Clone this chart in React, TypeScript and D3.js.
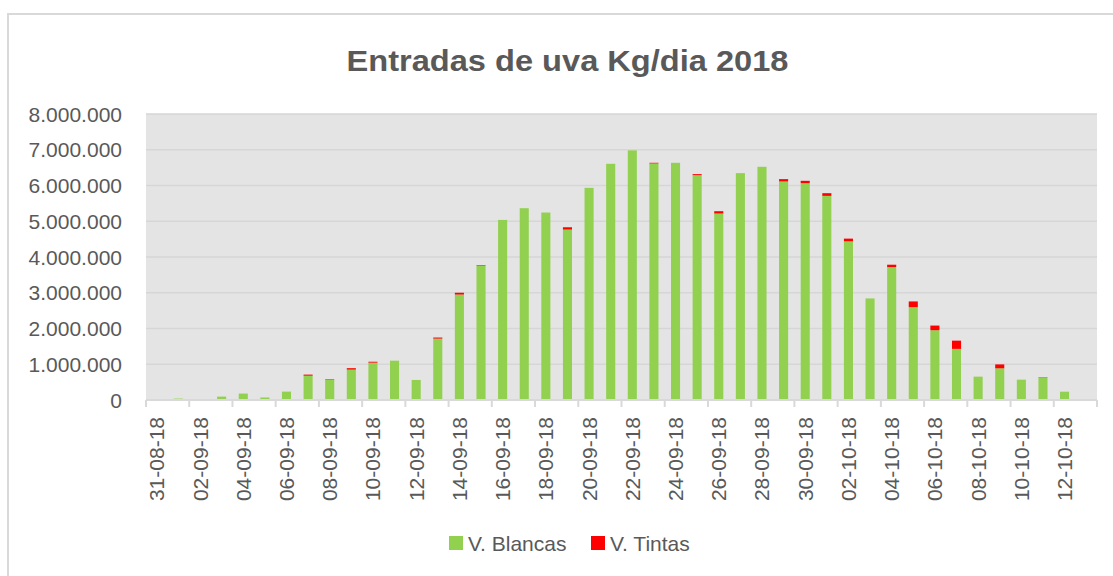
import React, { useRef, useEffect } from 'react';
import * as d3 from 'd3';

// Daily grape intake, 31-08-18 .. 13-10-18 (kg)
const dates = [
  '31-08-18',
  '01-09-18', '02-09-18', '03-09-18', '04-09-18', '05-09-18', '06-09-18', '07-09-18', '08-09-18',
  '09-09-18', '10-09-18', '11-09-18', '12-09-18', '13-09-18', '14-09-18', '15-09-18', '16-09-18',
  '17-09-18', '18-09-18', '19-09-18', '20-09-18', '21-09-18', '22-09-18', '23-09-18', '24-09-18',
  '25-09-18', '26-09-18', '27-09-18', '28-09-18', '29-09-18', '30-09-18',
  '01-10-18', '02-10-18', '03-10-18', '04-10-18', '05-10-18', '06-10-18', '07-10-18', '08-10-18',
  '09-10-18', '10-10-18', '11-10-18', '12-10-18', '13-10-18',
];

const blancas = [
  10000,
  40000, 10000, 95000, 180000, 70000, 235000, 680000, 560000,
  850000, 1045000, 1100000, 560000, 1717000, 2950000, 3760000, 5037000,
  5365000, 5244000, 4767000, 5934000, 6607000, 6983000, 6617000, 6635000,
  6290000, 5216000, 6346000, 6523000, 6113000, 6066000,
  5710000, 4439000, 2841000, 3719000, 2597000, 1952000, 1430000, 653000,
  886000, 569000, 625000, 233000, 0,
];

const tintas = [
  0,
  0, 0, 0, 0, 0, 0, 30000, 15000,
  40000, 25000, 0, 0, 30000, 50000, 15000, 0,
  0, 0, 65000, 0, 0, 0, 18000, 0,
  28000, 65000, 0, 0, 65000, 65000,
  75000, 75000, 0, 65000, 160000, 130000, 230000, 0,
  110000, 0, 10000, 0, 0,
];

const yTicks = [0, 1000000, 2000000, 3000000, 4000000, 5000000, 6000000, 7000000, 8000000];
const seriesNames = ['V. Blancas', 'V. Tintas'];
const seriesColors = ['#92d050', '#ff0000'];

const W = 1113;
const H = 576;
const FONT = '"Liberation Sans", Arial, sans-serif';
const TXT = '#595959';

const App = () => {
  const svgRef = useRef<SVGSVGElement>(null);

  useEffect(() => {
    if (!svgRef.current) return;
    const svg = d3.select(svgRef.current);
    svg.selectAll('*').remove();

    const m = { left: 146, right: 1097, top: 114, bottom: 400 };

    // outer chart frame
    svg.append('rect')
      .attr('x', 8).attr('y', 14).attr('width', W + 20).attr('height', H + 20)
      .attr('fill', '#fff').attr('stroke', '#d9d9d9').attr('stroke-width', 2);

    svg.append('text')
      .attr('x', (m.left + m.right) / 2 - 54).attr('y', 71)
      .attr('text-anchor', 'middle')
      .attr('font-family', FONT).attr('font-weight', 700).attr('font-size', 30)
      .attr('fill', TXT)
      .attr('textLength', 442).attr('lengthAdjust', 'spacingAndGlyphs')
      .text('Entradas de uva Kg/dia 2018');

    const x = d3.scaleBand<string>().domain(dates).range([m.left, m.right]).paddingInner(0.58).paddingOuter(0.29);
    const step = x.step();
    const y = d3.scaleLinear().domain([0, 8000000]).range([m.bottom, m.top]);

    // plot background + gridlines
    svg.append('rect')
      .attr('x', m.left).attr('y', m.top).attr('width', m.right - m.left).attr('height', m.bottom - m.top)
      .attr('fill', '#e4e4e4');
    svg.append('g').selectAll('line').data(yTicks.slice(1)).enter().append('line')
      .attr('x1', m.left).attr('x2', m.right)
      .attr('y1', d => y(d)).attr('y2', d => y(d))
      .attr('stroke', '#d6d6d6').attr('stroke-width', 1.5);

    // y tick labels
    const fmt = (v: number) => d3.format(',')(v).replace(/,/g, '.');
    svg.append('g').selectAll('text').data(yTicks).enter().append('text')
      .attr('x', 122).attr('y', d => y(d))
      .attr('text-anchor', 'end').attr('dominant-baseline', 'central')
      .attr('font-family', FONT).attr('font-size', 21).attr('fill', TXT)
      .text(d => fmt(d));

    // stacked bars
    const rows = dates.map((d, i) => ({ date: d, blancas: blancas[i], tintas: tintas[i] }));
    const stack = d3.stack<any>().keys(['blancas', 'tintas'])(rows);
    stack.forEach((layer, k) => {
      svg.append('g').selectAll('rect').data(layer).enter().append('rect')
        .attr('x', d => x(d.data.date) as number)
        .attr('width', x.bandwidth())
        .attr('y', d => y(d[1]))
        .attr('height', d => Math.max(0, y(d[0]) - y(d[1])))
        .attr('fill', seriesColors[k]);
    });

    // x axis line + ticks every 2 days
    svg.append('line')
      .attr('x1', m.left).attr('x2', m.right).attr('y1', m.bottom).attr('y2', m.bottom)
      .attr('stroke', '#d9d9d9').attr('stroke-width', 2);
    const tickIdx = d3.range(0, dates.length + 1, 2);
    svg.append('g').selectAll('line').data(tickIdx).enter().append('line')
      .attr('x1', i => m.left + i * step).attr('x2', i => m.left + i * step)
      .attr('y1', m.bottom).attr('y2', m.bottom + 7)
      .attr('stroke', '#d9d9d9').attr('stroke-width', 2);

    // x labels (every other day), rotated
    svg.append('g').selectAll('text').data(dates.filter((_, i) => i % 2 === 0)).enter().append('text')
      .attr('transform', d => `translate(${(x(d) as number) + x.bandwidth() / 2},417) rotate(-90)`)
      .attr('text-anchor', 'end').attr('dominant-baseline', 'central')
      .attr('font-family', FONT).attr('font-size', 21).attr('fill', TXT)
      .text(d => d);

    // legend
    const legX = [449, 591];
    seriesNames.forEach((name, k) => {
      svg.append('rect')
        .attr('x', legX[k]).attr('y', 536).attr('width', 14).attr('height', 14)
        .attr('fill', seriesColors[k]);
      svg.append('text')
        .attr('x', legX[k] + 19).attr('y', 543)
        .attr('dominant-baseline', 'central')
        .attr('font-family', FONT).attr('font-size', 21).attr('fill', TXT)
        .text(name);
    });
  }, []);

  return (
    <div style={{ position: 'fixed', left: 0, top: 0, width: W, height: H, background: '#fff' }}>
      <svg ref={svgRef} width={W} height={H} style={{ display: 'block' }} />
    </div>
  );
};

export default App;
